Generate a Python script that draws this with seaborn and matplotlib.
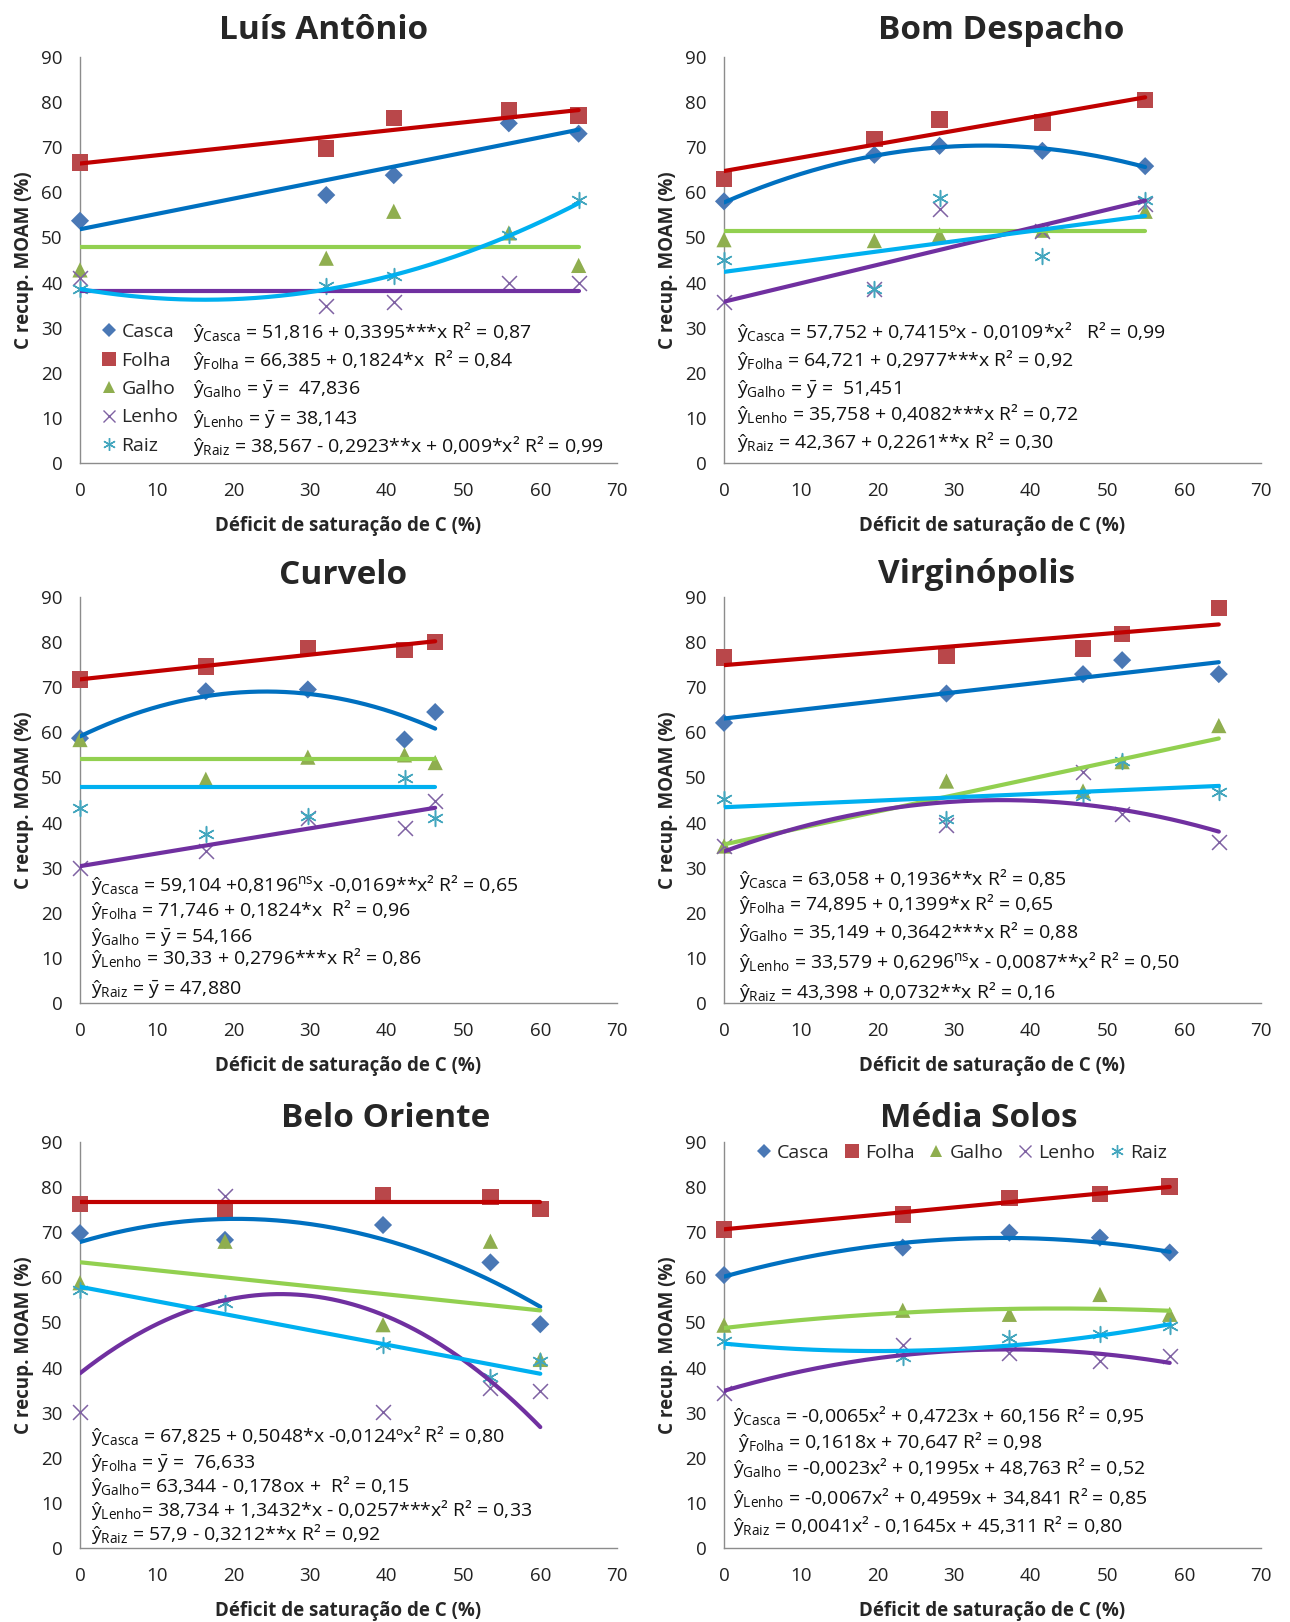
import numpy as np
import pandas as pd
import matplotlib
matplotlib.use("Agg")
import matplotlib.pyplot as plt
import seaborn as sns
from matplotlib.lines import Line2D

sns.set_style("white")
plt.rcParams["font.family"] = ["Open Sans", "DejaVu Sans"]
plt.rcParams["mathtext.fontset"] = "custom"
plt.rcParams["mathtext.rm"] = "Open Sans"
plt.rcParams["mathtext.it"] = "Open Sans:italic"
plt.rcParams["mathtext.bf"] = "Open Sans:bold"

parts = ["Casca", "Folha", "Galho", "Lenho", "Raiz"]

# ---------------- data: carbon recovered in MOAM (%) vs saturation deficit (%)
la_x = [0, 32.1, 40.9, 55.9, 65.0]
la_casca = [53.7, 59.4, 63.8, 75.3, 73.0]
la_folha = [66.6, 69.7, 76.5, 78.1, 77.0]
la_galho = [42.8, 45.4, 55.8, 51.0, 43.8]
la_lenho = [41.0, 34.8, 35.7, 40.0, 39.8]
la_raiz = [38.5, 39.3, 41.5, 50.6, 58.2]

bd_x = [0, 19.6, 28.1, 41.5, 54.9]
bd_casca = [58.0, 68.3, 70.3, 69.2, 65.8]
bd_folha = [63.0, 71.8, 76.1, 75.5, 80.5]
bd_galho = [49.5, 49.3, 50.6, 51.6, 55.8]
bd_lenho = [35.6, 38.5, 56.2, 51.5, 57.5]
bd_raiz = [45.0, 38.5, 58.7, 45.8, 58.4]

cv_x = [0, 16.4, 29.7, 42.3, 46.3]
cv_casca = [58.7, 69.1, 69.5, 58.4, 64.5]
cv_folha = [71.7, 74.6, 78.7, 78.3, 80.0]
cv_galho = [58.4, 49.6, 54.5, 55.0, 53.3]
cv_lenho = [30.0, 33.7, 41.1, 38.9, 44.7]
cv_raiz = [43.3, 37.4, 41.5, 49.9, 41.1]

vg_x = [0, 29.0, 46.8, 51.9, 64.5]
vg_casca = [62.1, 68.6, 72.9, 76.0, 72.9]
vg_folha = [76.6, 77.0, 78.6, 81.8, 87.5]
vg_galho = [34.8, 49.2, 47.0, 53.5, 61.5]
vg_lenho = [34.8, 39.5, 51.1, 41.9, 35.6]
vg_raiz = [45.3, 40.8, 45.8, 53.6, 46.7]

bo_x = [0, 18.9, 39.5, 53.5, 60.0]
bo_casca = [69.8, 68.3, 71.6, 63.3, 49.6]
bo_folha = [76.3, 75.0, 78.1, 77.8, 75.1]
bo_galho = [58.8, 68.0, 49.5, 68.0, 41.8]
bo_lenho = [30.2, 78.0, 30.2, 35.4, 34.8]
bo_raiz = [57.1, 54.2, 44.9, 37.8, 41.5]

ms_x = [0, 23.3, 37.2, 49.0, 58.1]
ms_casca = [60.5, 66.6, 69.9, 68.8, 65.5]
ms_folha = [70.6, 73.9, 77.6, 78.5, 80.1]
ms_galho = [49.4, 52.7, 51.8, 56.2, 51.8]
ms_lenho = [34.3, 45.0, 43.3, 41.5, 42.5]
ms_raiz = [45.8, 42.3, 46.5, 47.4, 49.3]

# regression coefficients y = a + b*x + c*x^2 (order: Casca, Folha, Galho, Lenho, Raiz)
la_a = [51.816, 66.385, 47.836, 38.143, 38.567]
la_b = [0.3395, 0.1824, 0.0, 0.0, -0.2923]
la_c = [0.0, 0.0, 0.0, 0.0, 0.009]

bd_a = [57.752, 64.721, 51.451, 35.758, 42.367]
bd_b = [0.7415, 0.2977, 0.0, 0.4082, 0.2261]
bd_c = [-0.0109, 0.0, 0.0, 0.0, 0.0]

cv_a = [59.104, 71.746, 54.166, 30.33, 47.880]
cv_b = [0.8196, 0.1824, 0.0, 0.2796, 0.0]
cv_c = [-0.0169, 0.0, 0.0, 0.0, 0.0]

vg_a = [63.058, 74.895, 35.149, 33.579, 43.398]
vg_b = [0.1936, 0.1399, 0.3642, 0.6296, 0.0732]
vg_c = [0.0, 0.0, 0.0, -0.0087, 0.0]

bo_a = [67.825, 76.633, 63.344, 38.734, 57.9]
bo_b = [0.5048, 0.0, -0.178, 1.3432, -0.3212]
bo_c = [-0.0124, 0.0, 0.0, -0.0257, 0.0]

ms_a = [60.156, 70.647, 48.763, 34.841, 45.311]
ms_b = [0.4723, 0.1618, 0.1995, 0.4959, -0.1645]
ms_c = [-0.0065, 0.0, -0.0023, -0.0067, 0.0041]

# equation labels
YBAR = r"$\bar{\mathrm{y}}$"
la_eq = [
    r"ŷ$_{\mathrm{Casca}}$ = 51,816 + 0,3395***x R² = 0,87",
    r"ŷ$_{\mathrm{Folha}}$ = 66,385 + 0,1824*x  R² = 0,84",
    r"ŷ$_{\mathrm{Galho}}$ = " + YBAR + r" =  47,836",
    r"ŷ$_{\mathrm{Lenho}}$ = " + YBAR + r" = 38,143",
    r"ŷ$_{\mathrm{Raiz}}$ = 38,567 - 0,2923**x + 0,009*x² R² = 0,99",
]
bd_eq = [
    r"ŷ$_{\mathrm{Casca}}$ = 57,752 + 0,7415ºx - 0,0109*x²   R² = 0,99",
    r"ŷ$_{\mathrm{Folha}}$ = 64,721 + 0,2977***x R² = 0,92",
    r"ŷ$_{\mathrm{Galho}}$ = " + YBAR + r" =  51,451",
    r"ŷ$_{\mathrm{Lenho}}$ = 35,758 + 0,4082***x R² = 0,72",
    r"ŷ$_{\mathrm{Raiz}}$ = 42,367 + 0,2261**x R² = 0,30",
]
cv_eq = [
    r"ŷ$_{\mathrm{Casca}}$ = 59,104 +0,8196$^{\mathrm{ns}}$x -0,0169**x² R² = 0,65",
    r"ŷ$_{\mathrm{Folha}}$ = 71,746 + 0,1824*x  R² = 0,96",
    r"ŷ$_{\mathrm{Galho}}$ = " + YBAR + r" = 54,166",
    r"ŷ$_{\mathrm{Lenho}}$ = 30,33 + 0,2796***x R² = 0,86",
    r"ŷ$_{\mathrm{Raiz}}$ = " + YBAR + r" = 47,880",
]
vg_eq = [
    r"ŷ$_{\mathrm{Casca}}$ = 63,058 + 0,1936**x R² = 0,85",
    r"ŷ$_{\mathrm{Folha}}$ = 74,895 + 0,1399*x R² = 0,65",
    r"ŷ$_{\mathrm{Galho}}$ = 35,149 + 0,3642***x R² = 0,88",
    r"ŷ$_{\mathrm{Lenho}}$ = 33,579 + 0,6296$^{\mathrm{ns}}$x - 0,0087**x² R² = 0,50",
    r"ŷ$_{\mathrm{Raiz}}$ = 43,398 + 0,0732**x R² = 0,16",
]
bo_eq = [
    r"ŷ$_{\mathrm{Casca}}$ = 67,825 + 0,5048*x -0,0124ºx² R² = 0,80",
    r"ŷ$_{\mathrm{Folha}}$ = " + YBAR + r" =  76,633",
    r"ŷ$_{\mathrm{Galho}}$= 63,344 - 0,178ox +  R² = 0,15",
    r"ŷ$_{\mathrm{Lenho}}$= 38,734 + 1,3432*x - 0,0257***x² R² = 0,33",
    r"ŷ$_{\mathrm{Raiz}}$ = 57,9 - 0,3212**x R² = 0,92",
]
ms_eq = [
    r"ŷ$_{\mathrm{Casca}}$ = -0,0065x² + 0,4723x + 60,156 R² = 0,95",
    r" ŷ$_{\mathrm{Folha}}$ = 0,1618x + 70,647 R² = 0,98",
    r"ŷ$_{\mathrm{Galho}}$ = -0,0023x² + 0,1995x + 48,763 R² = 0,52",
    r"ŷ$_{\mathrm{Lenho}}$ = -0,0067x² + 0,4959x + 34,841 R² = 0,85",
    r"ŷ$_{\mathrm{Raiz}}$ = 0,0041x² - 0,1645x + 45,311 R² = 0,80",
]

# ---------------- styling
marker_color = {"Casca": "#4A78B5", "Folha": "#B9474A", "Galho": "#8FAE4F",
                "Lenho": "#7F62A3", "Raiz": "#43A6BE"}
line_color = {"Casca": "#0070C0", "Folha": "#C00000", "Galho": "#92D050",
              "Lenho": "#7030A0", "Raiz": "#00B0F0"}
marker_shape = {"Casca": "D", "Folha": "s", "Galho": "^", "Lenho": "x", "Raiz": (6, 2, 0)}
marker_size = {"Casca": 85, "Folha": 140, "Galho": 120, "Lenho": 115, "Raiz": 130}

EQ_FS = 14
W, H = 1290, 1622
col_left = [80, 724]
row_top = [57, 597, 1142]
AX_W, AX_H = 537, 406

panels = [
    dict(title="Luís Antônio", cell=(0, 0), x=la_x,
         ys=[la_casca, la_folha, la_galho, la_lenho, la_raiz],
         coef=(la_a, la_b, la_c), eqs=la_eq, eq_x=193,
         eq_rows=[332, 360, 388, 417, 446], title_xy=(324, 39)),
    dict(title="Bom Despacho", cell=(0, 1), x=bd_x,
         ys=[bd_casca, bd_folha, bd_galho, bd_lenho, bd_raiz],
         coef=(bd_a, bd_b, bd_c), eqs=bd_eq, eq_x=737,
         eq_rows=[332, 359, 387, 413, 442], title_xy=(1001, 39)),
    dict(title="Curvelo", cell=(1, 0), x=cv_x,
         ys=[cv_casca, cv_folha, cv_galho, cv_lenho, cv_raiz],
         coef=(cv_a, cv_b, cv_c), eqs=cv_eq, eq_x=91,
         eq_rows=[885, 909, 935, 958, 988], title_xy=(343, 584)),
    dict(title="Virginópolis", cell=(1, 1), x=vg_x,
         ys=[vg_casca, vg_folha, vg_galho, vg_lenho, vg_raiz],
         coef=(vg_a, vg_b, vg_c), eqs=vg_eq, eq_x=739,
         eq_rows=[878, 904, 932, 962, 992], title_xy=(977, 583)),
    dict(title="Belo Oriente", cell=(2, 0), x=bo_x,
         ys=[bo_casca, bo_folha, bo_galho, bo_lenho, bo_raiz],
         coef=(bo_a, bo_b, bo_c), eqs=bo_eq, eq_x=91,
         eq_rows=[1435, 1461, 1485, 1509, 1534], title_xy=(386, 1127)),
    dict(title="Média Solos", cell=(2, 1), x=ms_x,
         ys=[ms_casca, ms_folha, ms_galho, ms_lenho, ms_raiz],
         coef=(ms_a, ms_b, ms_c), eqs=ms_eq, eq_x=733,
         eq_rows=[1415, 1441, 1468, 1498, 1525], title_xy=(979, 1127)),
]

fig = plt.figure(figsize=(W / 100, H / 100), dpi=100)


def fx(px):
    return px / W


def fy(py):
    return 1 - py / H


def legend_handles():
    hs = []
    for p in parts:
        filled = p in ("Casca", "Folha", "Galho")
        hs.append(Line2D([], [], linestyle="none", marker=marker_shape[p],
                         markersize=np.sqrt(marker_size[p]) * 0.8,
                         markerfacecolor=marker_color[p] if filled else "none",
                         markeredgecolor=marker_color[p],
                         markeredgewidth=0 if filled else 1.0))
    return hs


for pnl in panels:
    r, c = pnl["cell"]
    left, top = col_left[c], row_top[r]
    ax = fig.add_axes([fx(left), fy(top + AX_H), AX_W / W, AX_H / H])

    long = pd.DataFrame({
        "x": np.tile(pnl["x"], len(parts)),
        "valor": np.concatenate(pnl["ys"]),
        "parte": np.repeat(parts, len(pnl["x"])),
    })

    # observed values
    for p in parts:
        sub = long[long["parte"] == p]
        filled = p in ("Casca", "Folha", "Galho")
        kw = dict(linewidth=0, edgecolor="none") if filled else dict(linewidth=1.1)
        sns.scatterplot(data=sub, x="x", y="valor", marker=marker_shape[p],
                        color=marker_color[p], s=marker_size[p], ax=ax,
                        legend=False, clip_on=False, zorder=3, **kw)

    # fitted regression curves
    a, b, cc = pnl["coef"]
    xf = np.linspace(0, max(pnl["x"]), 200)
    for i, p in enumerate(parts):
        yf = a[i] + b[i] * xf + cc[i] * xf ** 2
        sns.lineplot(x=xf, y=yf, color=line_color[p], linewidth=3.0,
                     estimator=None, sort=False, ax=ax, zorder=4)

    ax.set_xlim(0, 70)
    ax.set_ylim(0, 90)
    ax.set_xticks(range(0, 71, 10))
    ax.set_yticks(range(0, 91, 10))
    for s in ("top", "right"):
        ax.spines[s].set_visible(False)
    for s in ("left", "bottom"):
        ax.spines[s].set_color("#8C8C8C")
        ax.spines[s].set_linewidth(1.0)
    ax.tick_params(direction="out", length=5.5, width=1, color="#8C8C8C",
                   labelsize=13.5, labelcolor="#222222")
    ax.tick_params(axis="x", pad=8)
    ax.tick_params(axis="y", pad=7)
    ax.set_xlabel("Déficit de saturação de C (%)", fontsize=13.5,
                  fontweight="bold", labelpad=12)
    ax.set_ylabel("C recup. MOAM (%)", fontsize=13.5, fontweight="bold",
                  labelpad=5)

    tx, ty = pnl["title_xy"]
    fig.text(fx(tx), fy(ty), pnl["title"], fontsize=24, fontweight="bold",
             ha="center", va="baseline")

    for s, yc in zip(pnl["eqs"], pnl["eq_rows"]):
        fig.text(fx(pnl["eq_x"]), fy(yc + 6.5), s, fontsize=EQ_FS,
                 ha="left", va="baseline", color="#111111")

    if pnl["title"] == "Luís Antônio":
        ax.legend(legend_handles(), parts, loc="center left",
                  bbox_to_anchor=(fx(102), fy(389)), bbox_transform=fig.transFigure,
                  frameon=False, fontsize=EQ_FS, handlelength=0.75,
                  handletextpad=0.25, labelspacing=0.54, borderpad=0,
                  borderaxespad=0)
    if pnl["title"] == "Média Solos":
        ax.legend(legend_handles(), parts, loc="center",
                  bbox_to_anchor=(fx(962), fy(1153)), bbox_transform=fig.transFigure,
                  frameon=False, fontsize=EQ_FS, ncol=5, handlelength=0.75,
                  handletextpad=0.3, columnspacing=0.75, borderpad=0,
                  borderaxespad=0)

fig.savefig("out.png", dpi=100)
